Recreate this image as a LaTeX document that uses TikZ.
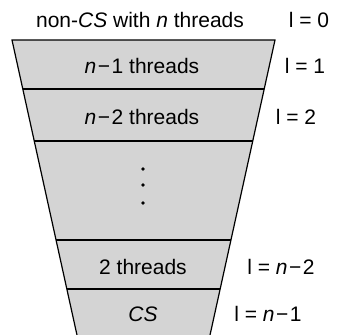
\documentclass[tikz,border=0pt]{standalone}
\usepackage{fontspec}
\setmainfont{Liberation Sans}
\newcommand{\nminus}[1]{\textit{n}\kern1.5pt−\kern1.5pt#1}

\begin{document}
\begin{tikzpicture}[x=1pt, y=-1pt, line width=1.2pt,
                    band/.style={fill=black!17},
                    thread node/.style={font=\fontsize{21}{24}\selectfont},
                    level node/.style={font=\fontsize{21}{24}\selectfont}]

  \useasboundingbox (0,0) rectangle (341,335);

  % funnel
  \begin{scope}
    \clip (0,0) rectangle (341,335);
    \fill[band] (12,40) -- (275,40) -- (208.7,341) -- (78.3,341) -- cycle;
    \draw (78.3,341) -- (12,40) -- (275,40) -- (208.7,341);
    \draw (22.8,89) -- (264.2,89);
    \draw (34.3,141) -- (252.7,141);
    \draw (56.1,240) -- (230.9,240);
    \draw (66.9,289) -- (220.1,289);
  \end{scope}

  % dots
  \fill (143,169) circle (1.8pt);
  \fill (143,185) circle (1.8pt);
  \fill (143,203) circle (1.8pt);

  \node[thread node] (t0) at (140,20) {non-\textit{CS} with \textit{n} threads};
  \node[thread node] (t1) at (142,66) {\nminus{1} threads};
  \node[thread node] (t2) at (142,117) {\nminus{2} threads};
  \node[thread node] (t3) at (143,267) {2 threads};
  \node[thread node] (t4) at (143,314) {\textit{CS}};

  \node[level node] (l0) at (309,20) {l = 0};
  \node[level node] (l1) at (305,66) {l = 1};
  \node[level node] (l2) at (296,117) {l = 2};
  \node[level node] (l3) at (281,267) {l = \nminus{2}};
  \node[level node] (l4) at (268,314) {l = \nminus{1}};
\end{tikzpicture}
\end{document}
